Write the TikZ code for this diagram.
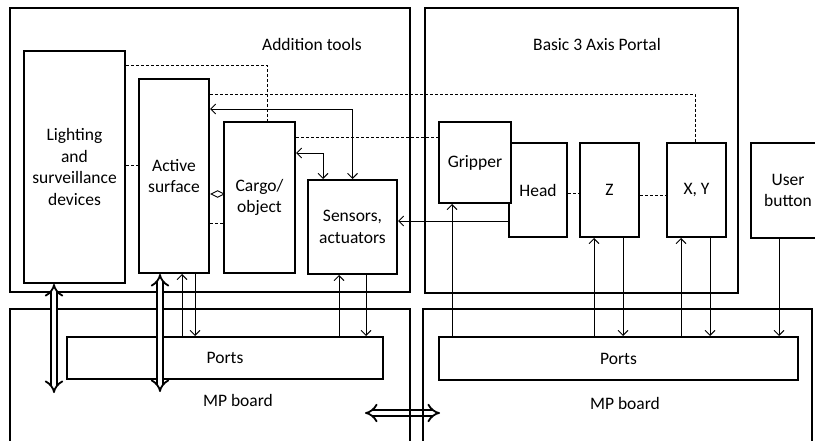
\documentclass[tikz,border=0pt]{standalone}
\usepackage{fontspec}
\setmainfont{Carlito}
\usetikzlibrary{arrows.meta,positioning}

\begin{document}
\begin{tikzpicture}[
    x=1pt, y=-1pt,
    font=\fontsize{17.5}{21.5}\selectfont,
    >={Straight Barb[length=5pt,width=10pt]},
    frame/.style={draw, line width=2pt, inner sep=0pt},
    unit/.style={draw, line width=2pt, fill=white, align=center, inner sep=0pt},
    lbl/.style={inner sep=0pt},
    sig/.style={line width=0.9pt},
    dsh/.style={line width=0.9pt, dash pattern=on 3pt off 2pt},
    bus/.style={double, double distance=4.5pt, line width=1.8pt, {Implies[scale=1.5]}-{Implies[scale=1.5]}}
  ]
  \useasboundingbox (0,0) rectangle (815,441);
  \clip (0,0) rectangle (815,441);

  % link between the two boards
  \coordinate (busl) at (365,413);
  \coordinate (busr) at (440,413);
  \draw[bus] (busl) -- (busr);

  % frames
  \node[frame, minimum width=400pt, minimum height=284pt] (tools) at (210,150) {};
  \node[frame, minimum width=313pt, minimum height=285pt] (portal) at (581.5,150.5) {};
  \node[frame, minimum width=400pt, minimum height=161pt] (mpl) at (210,389.5) {};
  \node[frame, minimum width=389pt, minimum height=161pt] (mpr) at (617.5,389.5) {};
  \node[lbl] (toolsname) at (312,44) {Addition tools};
  \node[lbl] (portalname) at (597,44) {Basic 3 Axis Portal};
  \node[lbl] (mplname) at (238,400) {MP board};
  \node[lbl] (mprname) at (625,403) {MP board};

  % units
  \node[unit, minimum width=101pt, minimum height=232pt] (light) at (74.5,167) {Lighting\\and\\surveillance\\devices};
  \node[unit, minimum width=70pt, minimum height=194pt] (act) at (174,176) {Active\\surface};
  \node[unit, minimum width=71pt, minimum height=151pt] (cargo) at (259.5,197.5) {Cargo/\\object};
  \node[unit, minimum width=89pt, minimum height=94pt] (sens) at (352.5,227) {Sensors,\\actuators};
  \node[unit, minimum width=58pt, minimum height=94pt] (head) at (538,190) {Head};
  \node[unit, minimum width=72pt, minimum height=81pt] (grip) at (475,162.5) {Gripper};
  \node[unit, minimum width=59pt, minimum height=94pt] (z) at (609.5,190) {Z};
  \node[unit, minimum width=59pt, minimum height=94pt] (xy) at (696.5,190) {X, Y};
  \node[unit, minimum width=74pt, minimum height=95pt] (user) at (788,190.5) {User\\button};
  \node[unit, minimum width=316pt, minimum height=42pt] (portsl) at (225,358) {Ports};
  \node[unit, minimum width=359pt, minimum height=43pt] (portsr) at (618.5,358.5) {Ports};

  % signal lines
  \draw[dsh] (light.east |- 0,65) -| (cargo.north -| 267,0);
  \draw[dsh] (act.east |- 0,94) -| (xy.north -| 695,0);
  \draw[sig, <->] (act.east |- 0,109) -| (sens.north);
  \draw[dsh] (cargo.east |- 0,137) -- (grip.west |- 0,137);
  \draw[sig, <->] (cargo.east |- 0,153) -| (sens.north -| 323,0);
  \draw[dsh] (light.east |- 0,165) -- (act.west |- 0,165);
  \draw[sig, {Diamond[open,scale=1.8]}-] (act.east |- 0,194) -- (cargo.west |- 0,194);
  \draw[dsh] (act.east |- 0,223) -- (cargo.west |- 0,223);
  \draw[sig, ->] (head.west |- 0,221) -- (sens.east |- 0,221);
  \draw[dsh] (head.east |- 0,193) -- (z.west |- 0,193);
  \draw[dsh] (z.east |- 0,195) -- (xy.west |- 0,195);

  % to and from the ports
  \foreach \x/\n in {182/act, 339/sens}
    \draw[sig, ->] (portsl.north -| \x,0) -- (\n.south -| \x,0);
  \foreach \x/\n in {195/act, 366/sens}
    \draw[sig, ->] (\n.south -| \x,0) -- (portsl.north -| \x,0);
  \foreach \x/\n in {452/grip, 594/z, 681/xy}
    \draw[sig, ->] (portsr.north -| \x,0) -- (\n.south -| \x,0);
  \foreach \x/\n in {623/z, 710/xy, 779/user}
    \draw[sig, ->] (\n.south -| \x,0) -- (portsr.north -| \x,0);

  % power / bus
  \coordinate (lightend) at (54,393);
  \coordinate (actend) at (160,392);
  \draw[bus] (light.south -| 54,0) -- (lightend);
  \draw[bus] (act.south -| 160,0) -- (actend);
\end{tikzpicture}
\end{document}
